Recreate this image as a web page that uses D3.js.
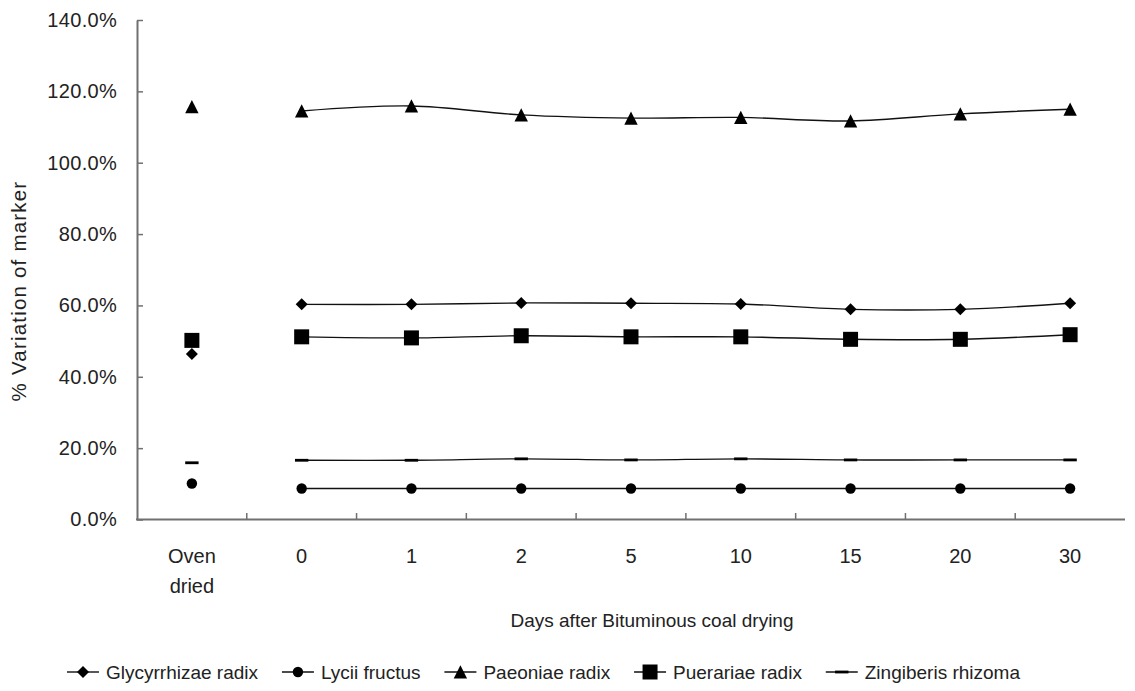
<!DOCTYPE html>
<html>
<head>
<meta charset="utf-8">
<script src="https://cdn.jsdelivr.net/npm/d3@7"></script>
<style>
  body { margin: 0; background: #fff; }
  text { font-family: 'Liberation Sans', Arial, sans-serif; fill: #222; }
</style>
</head>
<body>
<div id="chart"></div>
<script>
const categories = ['Oven dried', '0', '1', '2', '5', '10', '15', '20', '30']
const seriesNames = ['Glycyrrhizae radix', 'Lycii fructus', 'Paeoniae radix', 'Puerariae radix', 'Zingiberis rhizoma']
const glycyrrhizae = [46.4, 60.3, 60.3, 60.7, 60.6, 60.4, 58.9, 58.9, 60.6]
const lycii = [10.1, 8.7, 8.7, 8.7, 8.7, 8.7, 8.7, 8.7, 8.7]
const paeoniae = [115.7, 114.5, 115.9, 113.4, 112.5, 112.7, 111.7, 113.7, 115.0]
const puerariae = [50.2, 51.2, 50.9, 51.5, 51.2, 51.2, 50.5, 50.5, 51.8]
const zingiberis = [15.9, 16.6, 16.6, 17.0, 16.7, 17.0, 16.7, 16.7, 16.7]
const yTicks = [0, 20, 40, 60, 80, 100, 120, 140]

const W = 1135, H = 691
const svg = d3.select('#chart').append('svg').attr('width', W).attr('height', H)

const x = d3.scaleBand().domain(categories).range([137, 1125])
const y = d3.scaleLinear().domain([0, 140]).range([519.5, 20])
const cx = d => x(d) + x.bandwidth() / 2

/*  markers  */
const diamond = s => `M0,${-s}L${s},0L0,${s}L${-s},0Z`
const markers = [
  diamond(6),
  d3.symbol(d3.symbolCircle, 85)(),
  'M0,-6.7L6.7,6.6L-6.7,6.6Z',
  'M-7.5,-7.5H7.5V7.5H-7.5Z',
  'M-6.7,-1.4H6.7V1.4H-6.7Z'
]
const series = [glycyrrhizae, lycii, paeoniae, puerariae, zingiberis]
const axisColor = '#707070'

/*  y axis  */
const yAxis = svg.append('g').attr('transform', 'translate(137,0)')
  .call(d3.axisLeft(y).tickValues(yTicks).tickSizeInner(-6).tickSizeOuter(0).tickPadding(20)
    .tickFormat(d => d.toFixed(1) + '%'))
yAxis.select('.domain').attr('stroke', axisColor).attr('stroke-width', 2)
yAxis.selectAll('line').attr('stroke', axisColor).attr('stroke-width', 1.5)
yAxis.selectAll('text').style('font-size', '20px').attr('fill', '#222')
  .style('font-family', "'Liberation Sans', Arial, sans-serif").attr('letter-spacing', 0.3)

/*  x axis  */
svg.append('line').attr('x1', 136).attr('x2', 1125).attr('y1', 519.5).attr('y2', 519.5)
  .attr('stroke', axisColor).attr('stroke-width', 2)
svg.selectAll('.xtick').data(categories.slice(1)).enter().append('line')
  .attr('class', 'xtick')
  .attr('x1', d => x(d)).attr('x2', d => x(d))
  .attr('y1', 519.5).attr('y2', 513)
  .attr('stroke', axisColor).attr('stroke-width', 1.5)
const xl = svg.selectAll('.xlab').data(categories).enter().append('text')
  .attr('class', 'xlab')
  .attr('x', d => cx(d)).attr('y', 563)
  .attr('text-anchor', 'middle')
  .style('font-size', '20px')
xl.each(function(d) {
  const parts = d.split(' ')
  d3.select(this).selectAll('tspan').data(parts).enter().append('tspan')
    .attr('x', cx(d)).attr('dy', (p, i) => i === 0 ? 0 : 30)
    .text(p => p)
})

svg.append('text').attr('x', 652).attr('y', 627).attr('text-anchor', 'middle')
  .style('font-size', '19px').text('Days after Bituminous coal drying')
svg.append('text').attr('transform', 'translate(26,291) rotate(-90)').attr('text-anchor', 'middle')
  .style('font-size', '20.5px').attr('letter-spacing', 1.2).text('% Variation of marker')

/*  lines  */
const line = d3.line()
  .x((d, i) => cx(categories[i + 1]))
  .y(d => y(d))
  .curve(d3.curveCatmullRom.alpha(0.5))
series.forEach((s, k) => {
  svg.append('path').attr('d', line(s.slice(1)))
    .attr('fill', 'none').attr('stroke', '#111').attr('stroke-width', 1.4)
  svg.selectAll('.m' + k).data(s).enter().append('path')
    .attr('class', 'm' + k)
    .attr('d', markers[k])
    .attr('transform', (d, i) => `translate(${cx(categories[i])},${y(d)})`)
    .attr('fill', '#000')
})

/*  legend  */
const legendLeft = 67, legendRight = 1020
const lg = svg.append('g').attr('transform', `translate(${legendLeft},672)`)
const items = lg.selectAll('g').data(seriesNames).enter().append('g')
items.append('line').attr('x1', 0).attr('x2', 32).attr('y1', 0).attr('y2', 0)
  .attr('stroke', '#111').attr('stroke-width', 1.4)
items.append('path').attr('d', (d, i) => markers[i]).attr('transform', 'translate(16,0)')
  .attr('fill', '#000')
items.append('text').attr('x', 39).attr('y', 7).style('font-size', '19px').text(d => d)
const widths = []
items.each(function() {
  widths.push(39 + d3.select(this).select('text').node().getComputedTextLength())
})
const gap = (legendRight - legendLeft - d3.sum(widths)) / (widths.length - 1)
let pos = 0
items.each(function(d, i) {
  d3.select(this).attr('transform', `translate(${pos},0)`)
  pos += widths[i] + gap
})
</script>
</body>
</html>
